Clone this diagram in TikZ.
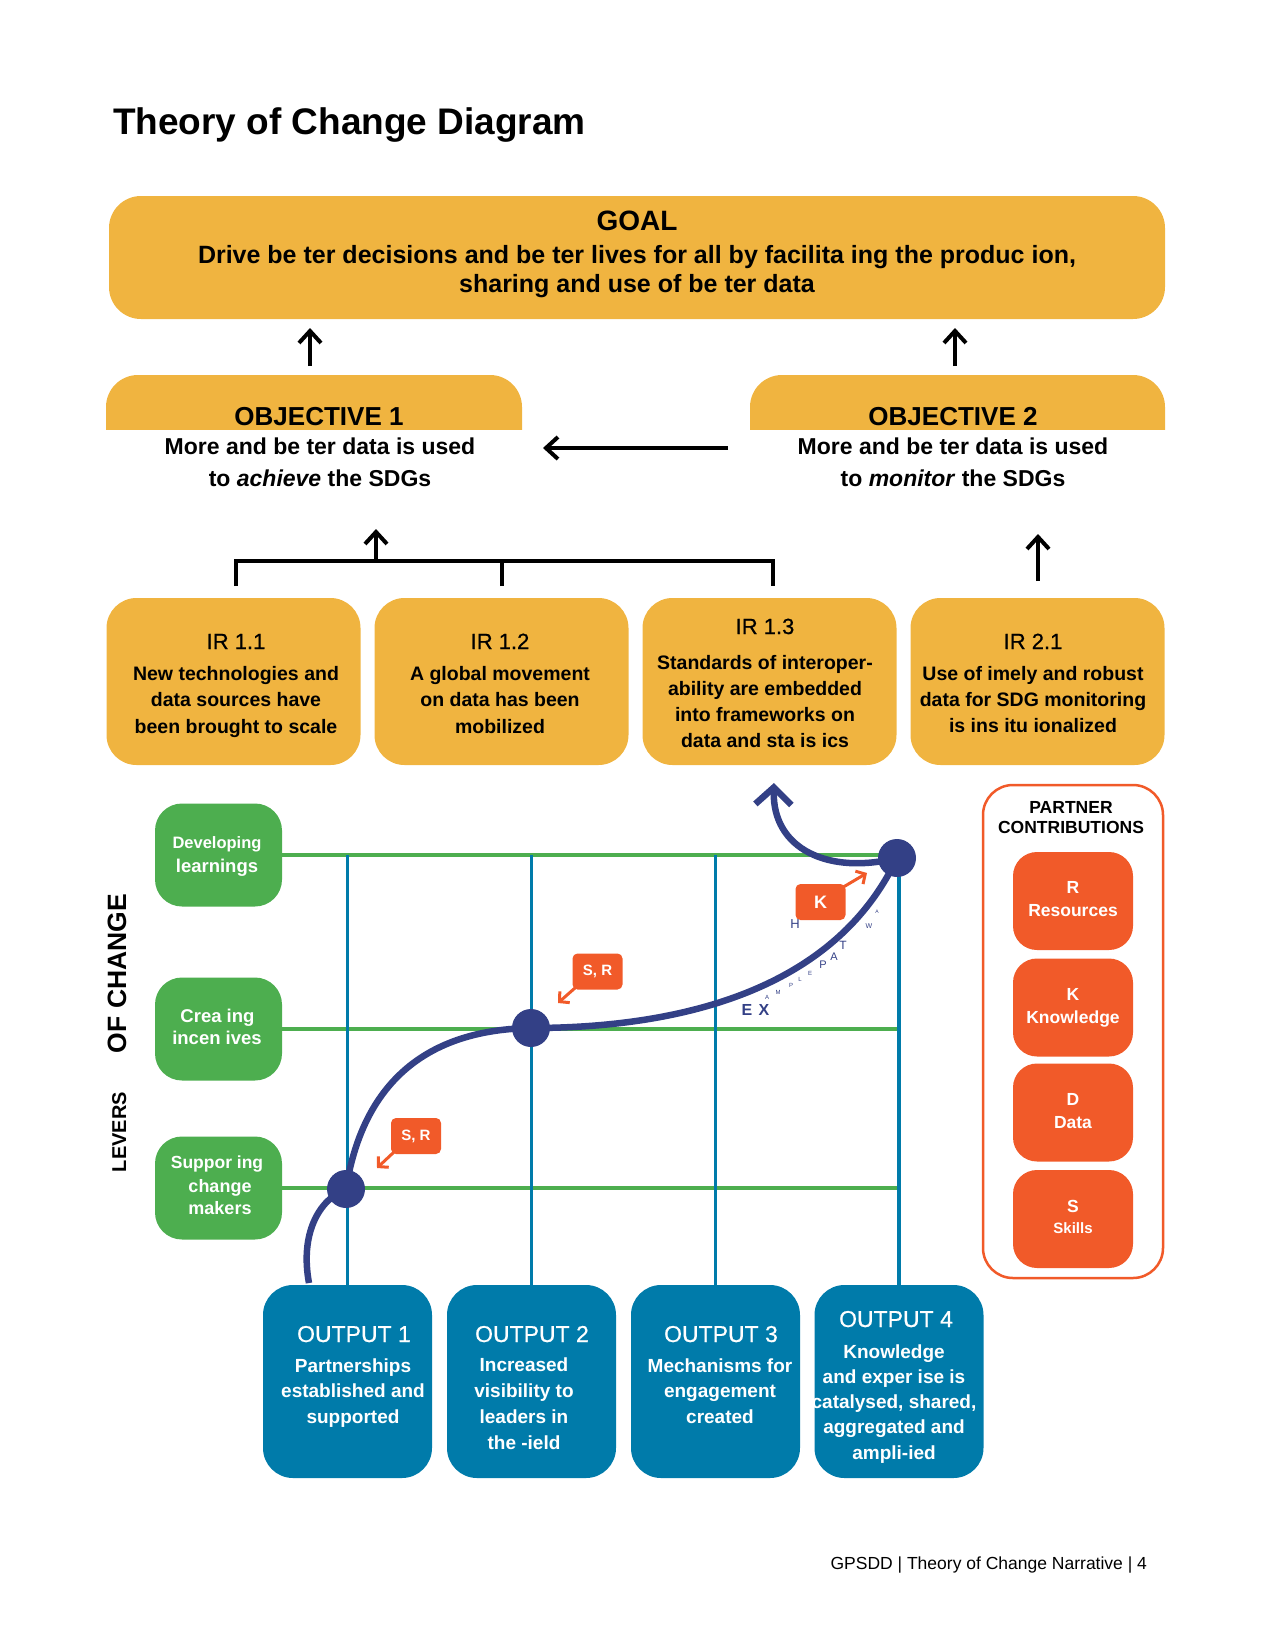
\documentclass[tikz,border=0pt]{standalone}
\usepackage{fontspec}
\setmainfont{Liberation Sans}
\newfontfamily\medfont[FakeBold=0.6]{Liberation Sans}
\usetikzlibrary{arrows.meta,calc}
\definecolor{tocyellow}{HTML}{F0B440}
\definecolor{tocgreen}{HTML}{4DAE4F}
\definecolor{tocblue}{HTML}{007BAA}
\definecolor{tocorange}{HTML}{F15A29}
\definecolor{tocnavy}{HTML}{334086}
\newcommand{\fsz}[2]{\fontsize{#1}{#2}\selectfont}
\begin{document}
\begin{tikzpicture}[x=1pt,y=-1pt,
  txt/.style={inner sep=0pt, outer sep=0pt, anchor=base, align=center},
  wtxt/.style={txt, text=white},
  ybox/.style={fill=tocyellow, rounded corners=30pt, inner sep=0pt, outer sep=0pt},
  irbox/.style={ybox, minimum width=254pt, minimum height=167pt},
  gbox/.style={fill=tocgreen, rounded corners=27pt, inner sep=0pt, outer sep=0pt, minimum width=127pt, minimum height=103pt},
  outbox/.style={fill=tocblue, rounded corners=30pt, inner sep=0pt, outer sep=0pt, minimum width=169pt, minimum height=193pt},
  pcbox/.style={fill=tocorange, rounded corners=24pt, inner sep=0pt, outer sep=0pt, minimum width=120pt, minimum height=98pt},
  tagbox/.style={fill=tocorange, rounded corners=5pt, inner sep=0pt, minimum width=50pt, minimum height=36pt, text=white, font=\bfseries\fsz{15}{18}},
  dotn/.style={circle, fill=tocnavy, minimum size=38pt, inner sep=0pt},
  blkarrow/.style={line width=4pt, -{Straight Barb[length=12pt,width=22pt]}},
  blkline/.style={line width=4pt},
  gline/.style={tocgreen, line width=3.5pt},
  bline/.style={tocblue, line width=3.5pt},
  pathline/.style={tocnavy, line width=6.5pt},
  tagarrow/.style={tocorange, line width=3pt, -{Straight Barb[length=7pt,width=15pt]}},
  lettr/.style={inner sep=0pt, text=tocnavy, font=\bfseries}
]
\useasboundingbox (0,0) rectangle (1275,1650);

% title
\node[txt, anchor=base west, font=\bfseries\fsz{37}{44}] (title) at (113,134) {Theory of Change Diagram};

% goal
\node[ybox, rounded corners=32pt, minimum width=1056pt, minimum height=123pt] (goal) at (637,257.5) {};
\node[txt, font=\bfseries\fsz{28}{30}] (goalh) at (637,230) {GOAL};
\node[txt, font=\bfseries\fsz{25}{29.5}] (goalb) at (637,292.5) {Drive be ter decisions and be ter lives for all by facilita ing the produc ion,\\sharing and use of be ter data};

% objectives
\node[inner sep=0pt, outer sep=0pt, minimum width=416pt, minimum height=54pt] (obj1) at (314,402) {};
\node[inner sep=0pt, outer sep=0pt, minimum width=415pt, minimum height=54pt] (obj2) at (957.5,402) {};
\foreach \o in {obj1,obj2}{
  \begin{scope}
    \clip (\o.north west) rectangle (\o.south east);
    \fill[tocyellow, rounded corners=32pt] (\o.north west) rectangle ([yshift=-60pt]\o.south east);
  \end{scope}
}
\node[txt, font=\bfseries\fsz{26}{30}] (obj1h) at (319,425) {OBJECTIVE 1};
\node[txt, font=\bfseries\fsz{23}{32}] (obj1b) at (320,486) {More and be ter data is used\\to \textit{achieve} the SDGs};
\node[txt, font=\bfseries\fsz{26}{30}] (obj2h) at (953,425) {OBJECTIVE 2};
\node[txt, font=\bfseries\fsz{23}{32}] (obj2b) at (953,486) {More and be ter data is used\\to \textit{monitor} the SDGs};

\draw[blkarrow] ([xshift=-4pt,yshift=9pt]obj1.north) -- ([xshift=-327pt,yshift=-9pt]goal.south);
\draw[blkarrow] ([xshift=-2.5pt,yshift=9pt]obj2.north) -- ([xshift=318pt,yshift=-9pt]goal.south);
\draw[blkarrow] ([xshift=-22pt,yshift=-46pt]obj2.west) -- ([xshift=21pt,yshift=-46pt]obj1.east);

% IR boxes
\node[irbox] (ir11) at (233.5,681.5) {};
\node[irbox] (ir12) at (501.5,681.5) {};
\node[irbox] (ir13) at (769.5,681.5) {};
\node[irbox] (ir21) at (1037.5,681.5) {};
\node[txt, font=\medfont\fsz{22}{26}] (ir11h) at (236,649) {IR 1.1};
\node[txt, font=\bfseries\fsz{19.5}{26.5}] (ir11b) at (236,733) {New technologies and\\data sources have\\been brought to scale};
\node[txt, font=\medfont\fsz{22}{26}] (ir12h) at (500,649) {IR 1.2};
\node[txt, font=\bfseries\fsz{19.5}{26.5}] (ir12b) at (500,733) {A global movement\\on data has been\\mobilized};
\node[txt, font=\medfont\fsz{22}{26}] (ir13h) at (765,634) {IR 1.3};
\node[txt, font=\bfseries\fsz{19.5}{25.7}] (ir13b) at (765,747) {Standards of interoper-\\ability are embedded\\into frameworks on\\data and sta is ics};
\node[txt, font=\medfont\fsz{22}{26}] (ir21h) at (1033,649) {IR 2.1};
\node[txt, font=\bfseries\fsz{19.5}{26}] (ir21b) at (1033,732) {Use of imely and robust\\data for SDG monitoring\\is ins itu ionalized};

% bracket and arrows to objectives
\draw[blkline] ([xshift=2.5pt,yshift=12pt]ir11.north) -- ++(0,-25) -| ([xshift=3.5pt,yshift=12pt]ir13.north);
\draw[blkline] ([xshift=0.5pt,yshift=12pt]ir12.north) -- ++(0,-25);
\coordinate (brk) at (376,561);
\draw[blkarrow] (brk) -- ++(0,-32);
\draw[blkarrow] ([xshift=0.5pt,yshift=17pt]ir21.north) -- ++(0,-47);

% levers
\node[txt, rotate=90, font=\bfseries\fsz{26.5}{30}] (levof) at (126,973.5) {OF CHANGE};
\node[txt, rotate=90, font=\bfseries\fsz{20}{24}] (levl) at (126,1132) {LEVERS};
\node[gbox] (lev1) at (218.5,855) {};
\node[gbox] (lev2) at (218.5,1029) {};
\node[gbox] (lev3) at (218.5,1188) {};
\node[wtxt, font=\bfseries\fsz{16.5}{20}] (lev1a) at (217,848) {Developing};
\node[wtxt, font=\bfseries\fsz{18.5}{22}] (lev1b) at (217,872) {learnings};
\node[wtxt, font=\bfseries\fsz{18.5}{22}] (lev2a) at (217.5,1022) {Crea ing};
\node[wtxt, font=\bfseries\fsz{18.5}{22}] (lev2b) at (217,1044) {incen ives};
\node[wtxt, font=\bfseries\fsz{17.5}{22}] (lev3a) at (217,1168) {Suppor ing};
\node[wtxt, font=\bfseries\fsz{18}{22}] (lev3b) at (220,1192) {change};
\node[wtxt, font=\bfseries\fsz{18}{22}] (lev3c) at (220,1214) {makers};

% outputs
\node[outbox] (out1) at (347.5,1381.5) {};
\node[outbox] (out2) at (531.5,1381.5) {};
\node[outbox] (out3) at (715.5,1381.5) {};
\node[outbox] (out4) at (899,1381.5) {};

% grid
\foreach \n in {lev1,lev2,lev3} \draw[gline] (\n.east) -- ++(616,0);
\foreach \n in {out1,out2,out3,out4} \draw[bline] (\n.north) -- ++(0,-430);

\node[wtxt, font=\medfont\fsz{23}{26}] (out1h) at (354,1342) {OUTPUT 1};
\node[wtxt, font=\bfseries\fsz{19}{25.5}] (out1b) at (353,1423) {Partnerships\\established and\\supported};
\node[wtxt, font=\medfont\fsz{23}{26}] (out2h) at (532,1342) {OUTPUT 2};
\node[wtxt, font=\bfseries\fsz{19}{25.7}] (out2b) at (524,1449) {Increased\\visibility to\\leaders in\\the -ield};
\node[wtxt, font=\medfont\fsz{23}{26}] (out3h) at (721,1342) {OUTPUT 3};
\node[wtxt, font=\bfseries\fsz{19}{25.5}] (out3b) at (720,1423) {Mechanisms for\\engagement\\created};
\node[wtxt, font=\medfont\fsz{23}{26}] (out4h) at (896,1327) {OUTPUT 4};
\node[wtxt, font=\bfseries\fsz{19}{25.2}] (out4b) at (894,1459) {Knowledge\\and exper ise is\\catalysed, shared,\\aggregated and\\ampli-ied};

% partner contributions
\node[draw=tocorange, line width=2.5pt, rounded corners=30pt, minimum width=180pt, minimum height=493pt, inner sep=0pt] (pc) at (1073,1031.5) {};
\node[txt, font=\bfseries\fsz{17.5}{20}] (pch) at (1071,833) {PARTNER\\CONTRIBUTIONS};
\node[pcbox] (pcr) at (1073,901) {};
\node[pcbox] (pck) at (1073,1007.5) {};
\node[pcbox] (pcd) at (1073,1112.5) {};
\node[pcbox] (pcs) at (1073,1219) {};
\node[wtxt, font=\bfseries\fsz{17.5}{23.5}] (pcrt) at (1073,916.5) {R\\Resources};
\node[wtxt, font=\bfseries\fsz{17.5}{23.5}] (pckt) at (1073,1023.5) {K\\Knowledge};
\node[wtxt, font=\bfseries\fsz{17.5}{23.5}] (pcdt) at (1073,1128.5) {D\\Data};
\node[wtxt, font=\bfseries\fsz{17.5}{20}] (pcst) at (1073,1212) {S};
\node[wtxt, font=\bfseries\fsz{15}{18}] (pcst2) at (1073,1233) {Skills};

% example pathway
\coordinate (p1) at (346,1189);
\coordinate (p2) at (531,1028);
\coordinate (p3) at (897,858);
\draw[pathline] ([xshift=-38.5pt,yshift=2pt]out1.north) .. controls (300,1235) and (318,1200) .. (p1)
  .. controls (360,1100) and (410,1030) .. (p2)
  .. controls (660,1028) and (830,1000) .. (p3);
\draw[pathline, -{Straight Barb[length=17pt,width=36pt]}] (p3) .. controls (830,875) and (772,850) .. ([xshift=4.5pt,yshift=-18pt]ir13.south);
\node[dotn] (d1) at (p1) {};
\node[dotn] (d2) at (p2) {};
\node[dotn] (d3) at (p3) {};

% tags
\node[tagbox] (tag1) at (597.5,971.5) {S, R};
\node[tagbox] (tag2) at (416,1136) {S, R};
\node[tagbox, font=\bfseries\fsz{18}{20}] (tagk) at (820.5,902) {K};
\coordinate (tag1tip) at (558,1003);
\coordinate (tag2tip) at (377,1168);
\coordinate (tagktip) at (867,873);
\draw[tagarrow] ([xshift=3pt,yshift=2pt]tag1.south west) -- (tag1tip);
\draw[tagarrow] ([xshift=3pt,yshift=2pt]tag2.south west) -- (tag2tip);
\draw[tagarrow] ([xshift=-2pt,yshift=-3pt]tagk.north east) -- (tagktip);

% letters
\node[lettr, font=\bfseries\fsz{16}{16}] (lE) at (747,1010) {E};
\node[lettr, font=\bfseries\fsz{16}{16}] (lX) at (764,1010) {X};
\node[lettr, font=\fsz{6}{6}] (lA1) at (767,997) {A};
\node[lettr, font=\fsz{6}{6}] (lM) at (778,992) {M};
\node[lettr, font=\fsz{6}{6}] (lP1) at (791,985) {P};
\node[lettr, font=\fsz{6}{6}] (lL) at (800,979) {L};
\node[lettr, font=\fsz{6}{6}] (lE2) at (810,973) {E};
\node[lettr, font=\fsz{11}{11}] (lP2) at (823,965) {P};
\node[lettr, font=\fsz{11}{11}] (lA2) at (834,957) {A};
\node[lettr, font=\fsz{12}{12}] (lT) at (843,945) {T};
\node[lettr, font=\fsz{13}{13}] (lH) at (795,924) {H};
\node[lettr, font=\fsz{7}{7}] (lW) at (869,926) {W};
\node[lettr, font=\fsz{5}{5}] (lA3) at (877,912) {A};

% footer
\node[txt, anchor=base east, font=\fsz{17.5}{20}] (footer) at (1147,1569) {GPSDD | Theory of Change Narrative | 4};
\end{tikzpicture}
\end{document}
